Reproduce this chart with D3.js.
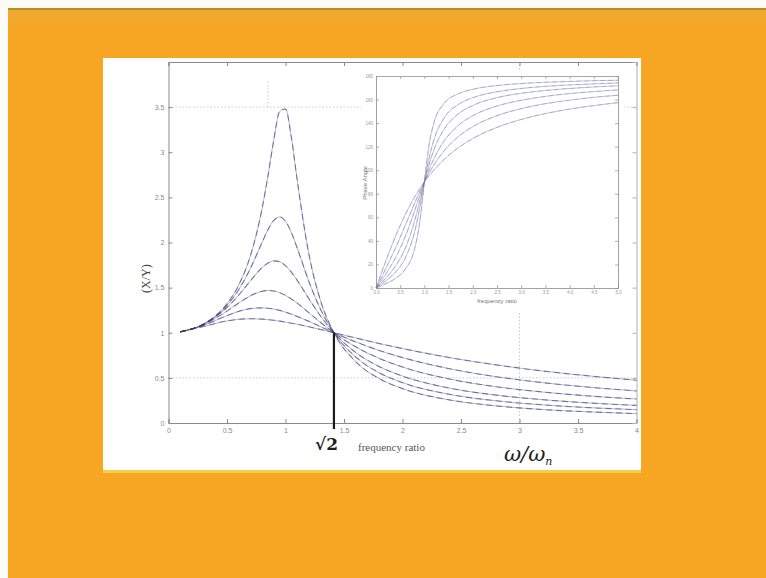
<!DOCTYPE html>
<html>
<head>
<meta charset="utf-8">
<script src="https://cdn.jsdelivr.net/npm/d3@7"></script>
<style>
  html, body { margin: 0; padding: 0; background: #f6a623; }
  svg { display: block; }
</style>
</head>
<body>
<svg id="slide" width="766" height="578"></svg>
<script>
// ---- Transmissibility |X/Y| versus frequency ratio, one series per damping ratio ----
const freqRatio = [0.1, 0.3, 0.5, 0.6, 0.7, 0.8, 0.85, 0.9, 0.95, 1.0, 1.05, 1.1, 1.2, 1.3, 1.414, 1.6, 1.8, 2.0, 2.4, 2.8, 3.2, 3.6, 4.0];
const dampingRatios = [0.15, 0.25, 0.35, 0.5, 0.7, 1.0];
const trZeta015 = [1.010, 1.098, 1.322, 1.528, 1.853, 2.377, 2.738, 3.137, 3.452, 3.480, 3.165, 2.692, 1.870, 1.354, 1.0, 0.680, 0.493, 0.381, 0.256, 0.190, 0.149, 0.123, 0.104];
const trZeta025 = [1.010, 1.096, 1.304, 1.477, 1.713, 2.001, 2.141, 2.245, 2.283, 2.236, 2.111, 1.939, 1.567, 1.258, 1.0, 0.731, 0.557, 0.447, 0.318, 0.246, 0.201, 0.170, 0.148];
const trZeta035 = [1.010, 1.094, 1.280, 1.417, 1.575, 1.722, 1.772, 1.796, 1.787, 1.744, 1.672, 1.581, 1.377, 1.184, 1.0, 0.782, 0.626, 0.520, 0.387, 0.309, 0.258, 0.222, 0.195];
const trZeta050 = [1.010, 1.090, 1.240, 1.329, 1.409, 1.460, 1.468, 1.463, 1.444, 1.414, 1.374, 1.328, 1.222, 1.114, 1.0, 0.844, 0.717, 0.620, 0.488, 0.402, 0.343, 0.299, 0.266];
const trZeta070 = [1.010, 1.082, 1.190, 1.237, 1.267, 1.276, 1.272, 1.262, 1.248, 1.229, 1.207, 1.181, 1.126, 1.067, 1.0, 0.899, 0.804, 0.725, 0.602, 0.513, 0.447, 0.396, 0.355];
const trZeta100 = [1.010, 1.070, 1.131, 1.149, 1.155, 1.151, 1.145, 1.138, 1.129, 1.118, 1.106, 1.094, 1.066, 1.036, 1.0, 0.942, 0.881, 0.825, 0.725, 0.644, 0.576, 0.521, 0.474];
const trSeries = [trZeta015, trZeta025, trZeta035, trZeta050, trZeta070, trZeta100];

// ---- Phase angle (degrees) versus frequency ratio, same damping ratios ----
const phaseRatio = [0, 0.2, 0.4, 0.6, 0.8, 0.9, 0.95, 1.0, 1.05, 1.1, 1.2, 1.4, 1.7, 2.0, 2.5, 3.0, 3.5, 4.0, 4.5, 5.0];
const phZeta015 = [0, 3.6, 8.1, 15.7, 33.7, 54.9, 71.1, 90, 108.0, 122.5, 140.7, 156.4, 164.9, 168.7, 171.9, 173.6, 174.7, 175.4, 176.0, 176.4];
const phZeta025 = [0, 6.0, 13.4, 25.1, 48.0, 67.1, 78.4, 90, 101.1, 110.9, 126.3, 143.9, 155.8, 161.6, 166.6, 169.4, 171.2, 172.4, 173.3, 174.1];
const phZeta035 = [0, 8.3, 18.4, 33.3, 57.3, 73.2, 81.7, 90, 97.9, 105.3, 117.7, 134.4, 147.8, 155.0, 161.6, 165.3, 167.7, 169.4, 170.7, 171.7];
const phZeta050 = [0, 11.8, 25.5, 43.2, 65.8, 78.1, 84.1, 90, 95.6, 100.8, 110.1, 124.4, 138.0, 146.3, 154.5, 159.4, 162.7, 165.1, 166.8, 168.2];
const phZeta070 = [0, 16.3, 33.7, 52.7, 72.2, 81.4, 85.8, 90, 94.0, 97.8, 104.7, 116.1, 128.5, 137.0, 146.3, 152.3, 156.5, 159.5, 161.9, 163.7];
const phZeta100 = [0, 22.6, 43.6, 61.9, 77.3, 84.0, 87.1, 90, 92.8, 95.5, 100.4, 108.9, 119.1, 126.9, 136.4, 143.1, 148.1, 151.9, 154.9, 157.4];
const phSeries = [phZeta015, phZeta025, phZeta035, phZeta050, phZeta070, phZeta100];

// ---- Tick values and labels ----
const xTicks = [0, 0.5, 1, 1.5, 2, 2.5, 3, 3.5, 4];
const xTickLabels = ["0", "0.5", "1", "1.5", "2", "2.5", "3", "3.5", "4"];
const yTicks = [0, 0.5, 1, 1.5, 2, 2.5, 3, 3.5];
const yTickLabels = ["0", "0.5", "1", "1.5", "2", "2.5", "3", "3.5"];
const insetXTicks = [0, 0.5, 1, 1.5, 2, 2.5, 3, 3.5, 4, 4.5, 5];
const insetYTicks = [0, 20, 40, 60, 80, 100, 120, 140, 160, 180];

// reference guides drawn dotted on the main axes
const guideLevels = [3.5, 0.5];
const guideRatios = [3];
const peakGuide = { r: 0.85, from: 3.5, to: 3.8 };
const crossRatio = 1.414;

const svg = d3.select("#slide");

// ---- slide background ----
svg.append("rect").attr("x", 0).attr("y", 0).attr("width", 766).attr("height", 578).attr("fill", "#f6a623");
svg.append("rect").attr("x", 0).attr("y", 0).attr("width", 766).attr("height", 8).attr("fill", "#fdfbf6");
svg.append("rect").attr("x", 0).attr("y", 0).attr("width", 8).attr("height", 578).attr("fill", "#fdfbf6");
svg.append("rect").attr("x", 8).attr("y", 8).attr("width", 758).attr("height", 2).attr("fill", "#b98a2a");
svg.append("rect").attr("x", 8).attr("y", 10).attr("width", 758).attr("height", 12).attr("fill", "#eeaa35").attr("opacity", 0.6);

// white picture panel
svg.append("rect").attr("x", 103).attr("y", 58).attr("width", 538).attr("height", 413).attr("fill", "#ffffff");
svg.append("rect").attr("x", 103).attr("y", 470).attr("width", 538).attr("height", 3).attr("fill", "#f4cf4e");

// ---- main axes ----
const x = d3.scaleLinear().domain([0, 4]).range([168.5, 636.5]);
const y = d3.scaleLinear().domain([0, 4]).range([423, 62]);

const main = svg.append("g");

// dotted guides
const guides = main.append("g").attr("stroke", "#bdbdbd").attr("stroke-width", 0.8).attr("stroke-dasharray", "1.5,2");
guides.selectAll("line.h").data(guideLevels).join("line")
  .attr("x1", x(0)).attr("x2", x(4)).attr("y1", d => y(d)).attr("y2", d => y(d));
guides.selectAll("line.v").data(guideRatios).join("line")
  .attr("x1", d => x(d)).attr("x2", d => x(d)).attr("y1", y(0)).attr("y2", y(4));
guides.append("line")
  .attr("x1", x(peakGuide.r)).attr("x2", x(peakGuide.r))
  .attr("y1", y(peakGuide.from)).attr("y2", y(peakGuide.to));

function styleAxis(g) {
  g.selectAll(".domain").attr("stroke", "#8a8a8a");
  g.selectAll(".tick line").attr("stroke", "#8a8a8a");
  g.selectAll(".tick text").attr("fill", "#8a8a8a").attr("font-family", "Liberation Sans, Arial, sans-serif");
}

const xAxis = main.append("g").attr("transform", `translate(0,${y(0)})`)
  .call(d3.axisBottom(x).tickValues(xTicks).tickFormat((d, i) => xTickLabels[i]).tickSize(-4).tickPadding(5))
  .attr("font-size", 7);
styleAxis(xAxis);
const yAxis = main.append("g").attr("transform", `translate(${x(0)},0)`)
  .call(d3.axisLeft(y).tickValues(yTicks).tickFormat((d, i) => yTickLabels[i]).tickSize(-4).tickPadding(4))
  .attr("font-size", 7);
styleAxis(yAxis);
const topAxis = main.append("g").attr("transform", `translate(0,${y(4)})`)
  .call(d3.axisTop(x).tickValues(xTicks).tickFormat("").tickSize(-4));
styleAxis(topAxis);
const rightAxis = main.append("g").attr("transform", `translate(${x(4)},0)`)
  .call(d3.axisRight(y).tickValues(yTicks).tickFormat("").tickSize(-4));
styleAxis(rightAxis);
rightAxis.selectAll(".domain, .tick line").attr("stroke", "#b0b0b0");

// transmissibility curves: thin blue trace with a dashed grey trace on top
const trLine = d3.line().x((d, i) => x(freqRatio[i])).y(d => y(d)).curve(d3.curveMonotoneX);
main.append("g").selectAll("path").data(trSeries).join("path")
  .attr("d", trLine).attr("fill", "none")
  .attr("stroke", "#5252d6").attr("stroke-width", 0.9).attr("stroke-opacity", 0.5);
main.append("g").selectAll("path").data(trSeries).join("path")
  .attr("d", trLine).attr("fill", "none")
  .attr("stroke", "#3a3a3a").attr("stroke-width", 1.1).attr("stroke-opacity", 0.55)
  .attr("stroke-dasharray", "6,4");

// marker at the crossover ratio
main.append("line")
  .attr("x1", x(crossRatio)).attr("x2", x(crossRatio))
  .attr("y1", y(1)).attr("y2", y(0) + 6)
  .attr("stroke", "#1a1a1a").attr("stroke-width", 2.2);

// axis titles
main.append("text")
  .attr("transform", `translate(150,${(y(1.6))}) rotate(-90)`)
  .attr("text-anchor", "middle")
  .attr("font-family", "Liberation Serif, Times New Roman, serif")
  .attr("font-size", 12).attr("fill", "#444")
  .text("(X/Y)");
main.append("text")
  .attr("x", 358).attr("y", 451)
  .attr("font-family", "Liberation Serif, Times New Roman, serif")
  .attr("font-size", 11).attr("fill", "#555")
  .text("frequency ratio");

// handwritten notes
main.append("text")
  .attr("x", 315).attr("y", 450)
  .attr("font-family", "DejaVu Serif, serif")
  .attr("font-weight", "bold")
  .attr("font-size", 17).attr("fill", "#1e1e1e")
  .text("√2");
const omega = main.append("text")
  .attr("x", 504).attr("y", 461)
  .attr("font-family", "DejaVu Serif, serif")
  .attr("font-style", "italic")
  .attr("font-size", 21).attr("fill", "#1e1e1e");
omega.append("tspan").text("ω/ω");
omega.append("tspan").attr("font-size", 11).attr("dy", 4).text("n");

// ---- inset: phase angle ----
const ix = d3.scaleLinear().domain([0, 5]).range([376, 618]);
const iy = d3.scaleLinear().domain([0, 180]).range([288, 76]);
const inset = svg.append("g");
inset.append("rect").attr("x", 362).attr("y", 70).attr("width", 262).attr("height", 242).attr("fill", "#ffffff");

function styleInset(g) {
  g.selectAll(".domain").attr("stroke", "#8a8a8a").attr("stroke-width", 0.8);
  g.selectAll(".tick line").attr("stroke", "#9a9a9a").attr("stroke-width", 0.8);
  g.selectAll(".tick text").attr("fill", "#9a9a9a").attr("font-family", "Liberation Sans, Arial, sans-serif");
}
const ixAxis = inset.append("g").attr("transform", `translate(0,${iy(0)})`)
  .call(d3.axisBottom(ix).tickValues(insetXTicks).tickSize(-3).tickPadding(3))
  .attr("font-size", 4.5);
styleInset(ixAxis);
const iyAxis = inset.append("g").attr("transform", `translate(${ix(0)},0)`)
  .call(d3.axisLeft(iy).tickValues(insetYTicks).tickSize(-3).tickPadding(3))
  .attr("font-size", 4.5);
styleInset(iyAxis);
const itAxis = inset.append("g").attr("transform", `translate(0,${iy(180)})`)
  .call(d3.axisTop(ix).tickValues(insetXTicks).tickFormat("").tickSize(-3));
styleInset(itAxis);
itAxis.select(".domain").attr("stroke", "#b79ac4").attr("stroke-width", 1.1);
const irAxis = inset.append("g").attr("transform", `translate(${ix(5)},0)`)
  .call(d3.axisRight(iy).tickValues(insetYTicks).tickFormat("").tickSize(-3));
styleInset(irAxis);

const phLine = d3.line().x((d, i) => ix(phaseRatio[i])).y(d => iy(d)).curve(d3.curveMonotoneX);
inset.append("g").selectAll("path").data(phSeries).join("path")
  .attr("d", phLine).attr("fill", "none")
  .attr("stroke", "#7a7ad0").attr("stroke-width", 0.8).attr("stroke-opacity", 0.55);
inset.append("g").selectAll("path").data(phSeries).join("path")
  .attr("d", phLine).attr("fill", "none")
  .attr("stroke", "#777").attr("stroke-width", 0.8).attr("stroke-opacity", 0.45)
  .attr("stroke-dasharray", "5,3");

inset.append("text")
  .attr("x", 497).attr("y", 303).attr("text-anchor", "middle")
  .attr("font-family", "Liberation Sans, Arial, sans-serif")
  .attr("font-size", 6).attr("fill", "#777")
  .text("frequency ratio");
inset.append("text")
  .attr("transform", `translate(367,183) rotate(-90)`)
  .attr("text-anchor", "middle")
  .attr("font-family", "Liberation Sans, Arial, sans-serif")
  .attr("font-size", 6).attr("fill", "#777")
  .text("Phase Angle");
</script>
</body>
</html>
